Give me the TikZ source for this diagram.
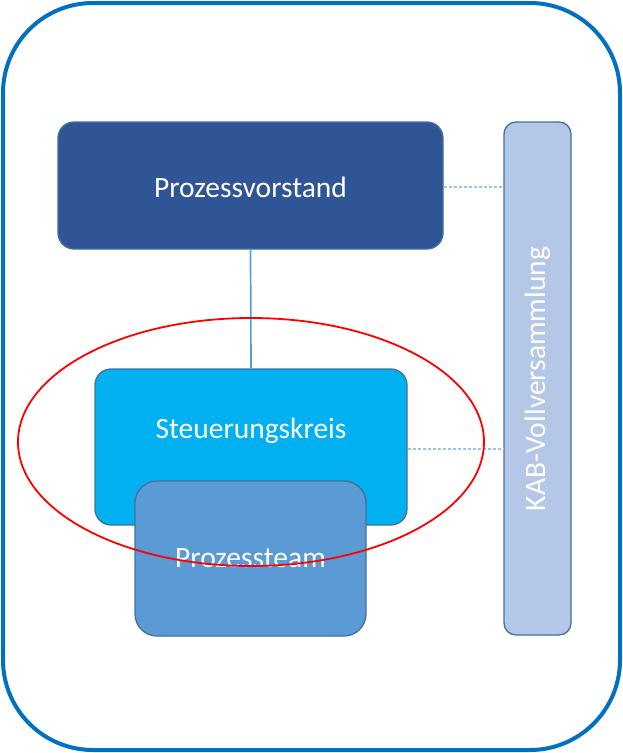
\documentclass[tikz,border=0pt]{standalone}
\usepackage{fontspec}
\setmainfont{Carlito}
\definecolor{frameblue}{HTML}{0070C0}
\definecolor{darkblue}{HTML}{2F5597}
\definecolor{cyanblue}{HTML}{00B0F0}
\definecolor{midblue}{HTML}{5B9BD5}
\definecolor{lightblue}{HTML}{B4C7E7}
\definecolor{borderblue}{HTML}{41719C}
\definecolor{dashblue}{HTML}{9DC3E6}
\begin{document}
\begin{tikzpicture}[x=1pt,y=-1pt,
  box/.style={draw=borderblue, line width=1.3pt, rounded corners=16pt, rectangle, inner sep=0pt},
  lbl/.style={text=white, font=\fontsize{29.5}{31}\selectfont},
  dashlink/.style={draw=dashblue, line width=1.2pt, dash pattern=on 3pt off 2pt}]
\useasboundingbox (0,0) rectangle (623,753);
\draw[frameblue, line width=4pt, rounded corners=90pt] (3,3) rectangle (620,750);
% boxes
\node[box, fill=darkblue, minimum width=385pt, minimum height=127pt] (pv) at (250.5,185.5) {};
\node[lbl] (pvt) at (250.5,187) {Prozessvorstand};
\node[box, fill=lightblue, rounded corners=12pt, minimum width=67pt, minimum height=513pt] (kab) at (537.5,378.5) {};
\node[lbl, rotate=90] (kabt) at (537.5,379) {KAB-Vollversammlung};
\node[box, fill=cyanblue, minimum width=312pt, minimum height=156pt] (sk) at (251,447) {};
\draw[midblue, line width=1.7pt] (pv.south) -- (sk.north);
\draw[dashlink] (pv.east |- 0,187) -- (kab.west |- 0,187);
\draw[dashlink] (sk.east |- 0,449) -- (kab.west |- 0,449);
\node[lbl] (skt) at (251,431) {Steuerungskreis};
\node[box, fill=midblue, rounded corners=22pt, minimum width=231pt, minimum height=155pt] (pt) at (250.5,558.5) {};
\node[lbl] (ptt) at (250.5,558) {Prozessteam};
\draw[red, line width=1.8pt] (251,442) ellipse [x radius=233pt, y radius=124pt];
\end{tikzpicture}
\end{document}
